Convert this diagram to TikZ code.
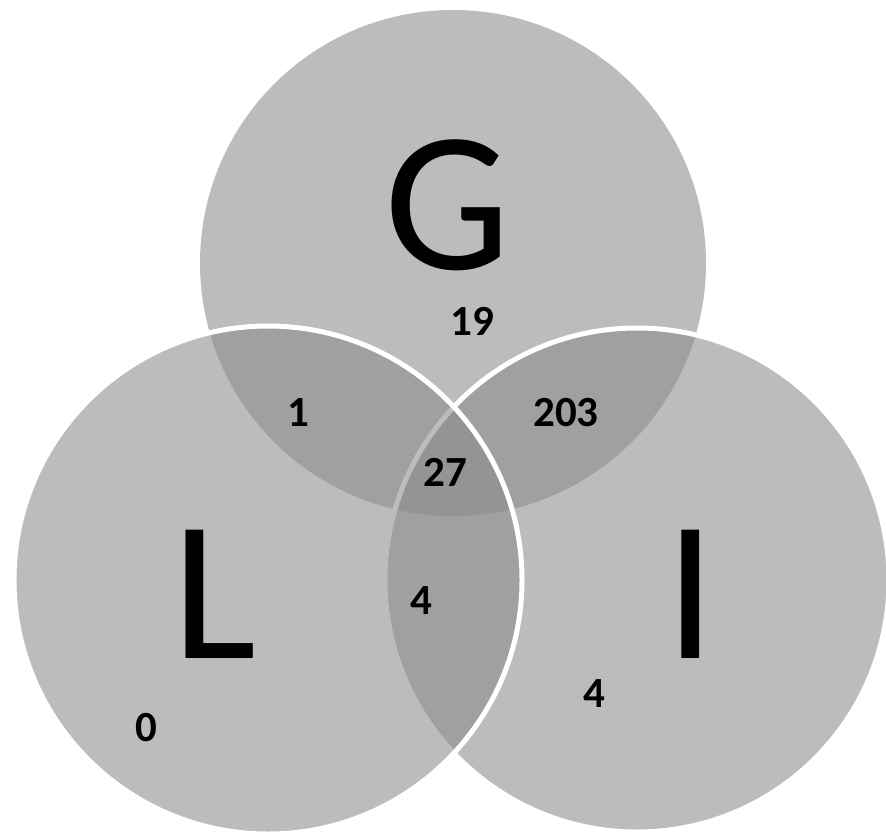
\documentclass[tikz,border=0pt]{standalone}
\usepackage{fontspec}
\setmainfont{Carlito}
\begin{document}
\begin{tikzpicture}[x=1pt,y=-1pt,
  setcircle/.style={fill=black!45,fill opacity=0.58},
  outlined/.style={draw=white,line width=5pt,draw opacity=1},
  biglabel/.style={inner sep=0pt,font=\fontsize{200}{200}\selectfont},
  count/.style={inner sep=0pt,font=\fontsize{43}{43}\selectfont\bfseries}]
\useasboundingbox (0,0) rectangle (886,840);
\fill[white] (0,0) rectangle (886,840);
\path[setcircle] (453,263) circle[radius=253];
\path[setcircle,outlined] (637,580) circle[radius=252];
\path[setcircle,outlined] (268,580) circle[radius=254];
\node[biglabel] (G) at (448,205) {G};
\node[biglabel] (L) at (215,594) {L};
\node[biglabel] (I) at (691,594) {I};
\node[count] (nG) at (472,321) {19};
\node[count] (nGL) at (298,413) {1};
\node[count] (nGI) at (566,413) {203};
\node[count] (nGLI) at (445,472) {27};
\node[count] (nLI) at (421,601) {4};
\node[count] (nL) at (146,728) {0};
\node[count] (nI) at (594,694) {4};
\end{tikzpicture}
\end{document}
